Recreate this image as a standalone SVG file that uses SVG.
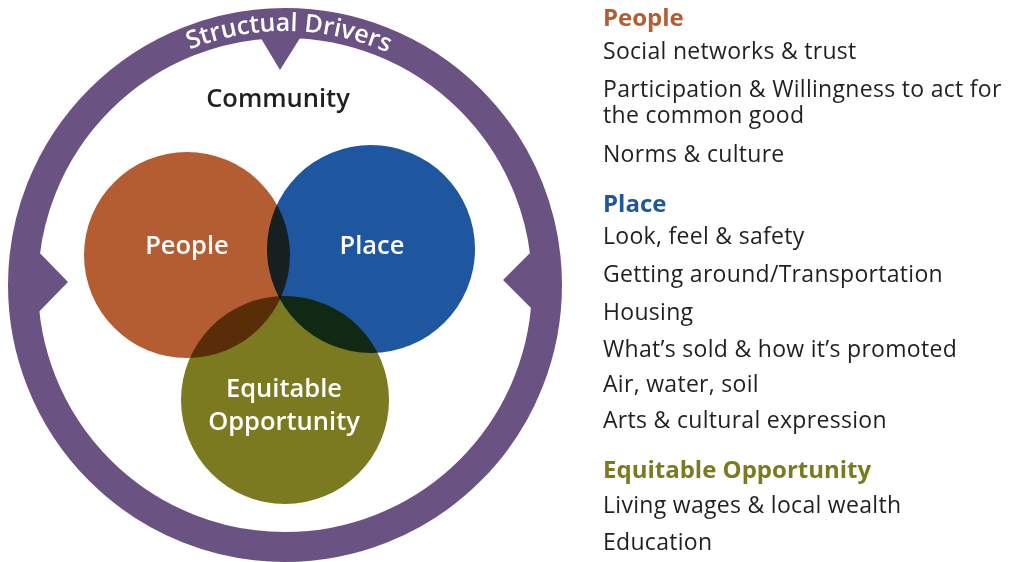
<svg xmlns="http://www.w3.org/2000/svg" width="1010" height="562" viewBox="0 0 1010 562">
  <defs>
    <style>
      .ring { fill: none; stroke: #6A5283; stroke-width: 30; }
      .notch { fill: #6A5283; }
      .ringlabel { font-family: "Open Sans", "Noto Sans", sans-serif; font-weight: 600; font-size: 25px; fill: #ffffff; }
      .blob { mix-blend-mode: multiply; }
      .inlabel { font-family: "Open Sans", "Noto Sans", sans-serif; font-weight: 600; font-size: 25.5px; fill: #ffffff; text-anchor: middle; }
      .title { font-family: "Open Sans", "Noto Sans", sans-serif; font-weight: 600; font-size: 25.5px; fill: #231F20; text-anchor: middle; }
      .head { font-family: "Open Sans", "Noto Sans", sans-serif; font-weight: 700; font-size: 24px; }
      .item { font-family: "Open Sans", "Noto Sans", sans-serif; font-weight: 400; font-size: 23px; letter-spacing: 0.3px; fill: #231F20; }
    </style>
    <path id="ringArc" d="M 31 285 A 254 254 0 0 1 539 285"/>
  </defs>

  <rect width="1010" height="562" fill="#ffffff"/>

  <!-- Outer ring with its three inward notches -->
  <g id="structural-drivers">
    <circle class="ring" cx="285" cy="285" r="262"/>
    <polygon class="notch" points="256,30 280,70 305,30"/>
    <polygon class="notch" points="30,243 68,282 30,321"/>
    <polygon class="notch" points="542,241 503,280 542,319"/>
    <text class="ringlabel"><textPath href="#ringArc" startOffset="50.5%" text-anchor="middle">Structual Drivers</textPath></text>
  </g>

  <g id="community">
    <text class="title" x="278" y="107">Community</text>
  </g>

  <!-- Venn circles, overlaps darken by multiplication -->
  <g id="node-people">
    <circle class="blob" cx="187" cy="255" r="103" fill="#B45D33"/>
    <text class="inlabel" x="187" y="254">People</text>
  </g>
  <g id="node-place">
    <circle class="blob" cx="371" cy="249" r="104" fill="#1F56A0"/>
    <text class="inlabel" x="372" y="254">Place</text>
  </g>
  <g id="node-equitable">
    <circle class="blob" cx="285" cy="400" r="104" fill="#7C7A20"/>
    <text class="inlabel" x="284" y="397">Equitable</text>
    <text class="inlabel" x="284" y="430">Opportunity</text>
  </g>

  <!-- Legend -->
  <g id="legend-people">
    <text class="head" x="603" y="26" fill="#B45D33">People</text>
    <text class="item" x="603" y="59">Social networks &amp; trust</text>
    <text class="item" x="603" y="97">Participation &amp; Willingness to act for</text>
    <text class="item" x="603" y="123">the common good</text>
    <text class="item" x="603" y="162">Norms &amp; culture</text>
  </g>
  <g id="legend-place">
    <text class="head" x="603" y="212" fill="#1F56A0">Place</text>
    <text class="item" x="603" y="244">Look, feel &amp; safety</text>
    <text class="item" x="603" y="282">Getting around/Transportation</text>
    <text class="item" x="603" y="320">Housing</text>
    <text class="item" x="603" y="357">What’s sold &amp; how it’s promoted</text>
    <text class="item" x="603" y="392">Air, water, soil</text>
    <text class="item" x="603" y="428">Arts &amp; cultural expression</text>
  </g>
  <g id="legend-equitable">
    <text class="head" x="603" y="478" fill="#7C7A20">Equitable Opportunity</text>
    <text class="item" x="603" y="513">Living wages &amp; local wealth</text>
    <text class="item" x="603" y="550">Education</text>
  </g>
</svg>
